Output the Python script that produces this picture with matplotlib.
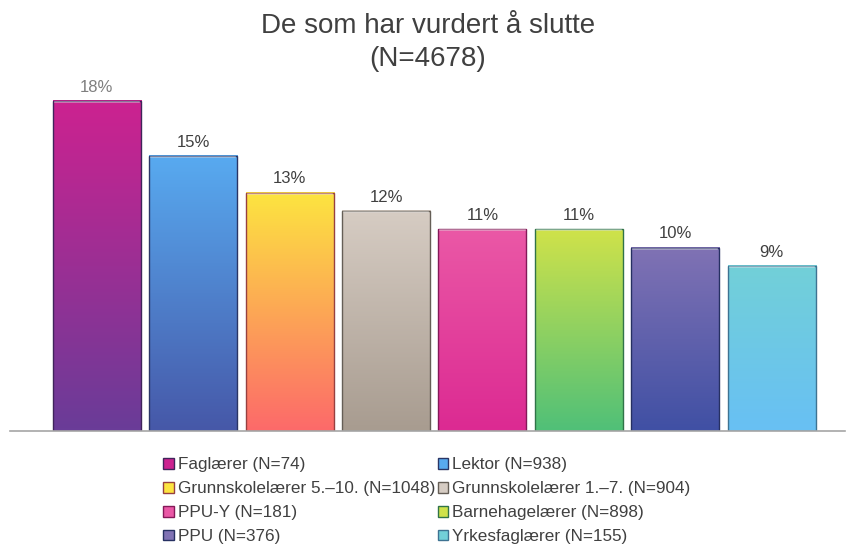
import numpy as np
import matplotlib
matplotlib.use("Agg")
from matplotlib import pyplot as plt
from matplotlib.colors import LinearSegmentedColormap, to_rgb
from matplotlib.patches import Patch

categories = ["Faglærer (N=74)", "Lektor (N=938)", "Grunnskolelærer 5.–10. (N=1048)",
              "Grunnskolelærer 1.–7. (N=904)", "PPU-Y (N=181)", "Barnehagelærer (N=898)",
              "PPU (N=376)", "Yrkesfaglærer (N=155)"]
values = [18, 15, 13, 12, 11, 11, 10, 9]
labels = ["18%", "15%", "13%", "12%", "11%", "11%", "10%", "9%"]

# top / bottom colours of each gradient bar
top_colors = ["#cc2290", "#58aaf0", "#fde440", "#d6ccc3", "#ea58a6", "#cfe24a", "#8072b4", "#72d0d8"]
bot_colors = ["#6a3c98", "#4658a8", "#fc6a6a", "#a89c90", "#dc2a92", "#50c078", "#4050a4", "#68c0f4"]

plt.rcParams['font.family'] = ['Liberation Sans', 'DejaVu Sans']

fig = plt.figure(figsize=(8.47, 5.46), dpi=100)
ax = fig.add_axes([10 / 847, 1 - 431 / 546, 835 / 847, 351 / 546])

x = np.arange(len(values))
width = 0.913
ymax = 18 * 351 / 330.0


def darker(c, f=0.6):
    r, g, b = to_rgb(c)
    return (r * f, g * f, b * f)


for i, v in enumerate(values):
    cmap = LinearSegmentedColormap.from_list("g%d" % i, [bot_colors[i], top_colors[i]])
    grad = np.linspace(0, 1, 100).reshape(-1, 1)
    ax.imshow(grad, cmap=cmap, origin="lower", aspect="auto",
              extent=(x[i] - width / 2, x[i] + width / 2, 0, v), zorder=1)
    ax.bar(x[i], v, width=width, facecolor="none", edgecolor=darker(bot_colors[i]),
           linewidth=1.0, zorder=2)
    ax.plot([x[i] - width / 2 + 0.02, x[i] + width / 2 - 0.02], [v - 0.06, v - 0.06],
            color="white", alpha=0.45, linewidth=1.2, zorder=3)
    ax.text(x[i], v + 0.35, labels[i], ha="center", va="bottom", fontsize=12,
            color="#7f7f7f" if i == 0 else "#404040")

ax.set_xlim(-0.9, 7.76)
ax.set_ylim(0, ymax)
ax.set_xticks([])
ax.set_yticks([])
for s in ["top", "right", "left"]:
    ax.spines[s].set_visible(False)
ax.spines["bottom"].set_color("#a6a6a6")
ax.spines["bottom"].set_linewidth(1.2)

fig.text(0.505, 1 - 26 / 546, "De som har vurdert å slutte", ha="center", va="center",
         fontsize=20, color="#404040")
fig.text(0.505, 1 - 59 / 546, "(N=4678)", ha="center", va="center",
         fontsize=20, color="#404040")

# legend filled row by row
order = [0, 2, 4, 6, 1, 3, 5, 7]
handles = [Patch(facecolor=top_colors[i], edgecolor=darker(bot_colors[i]), label=categories[i])
           for i in range(len(categories))]
leg = fig.legend([handles[i] for i in order], [categories[i] for i in order],
                 ncol=2, loc="upper left", bbox_to_anchor=(148 / 847, 1 - 442 / 546),
                 frameon=False, handlelength=0.6, handleheight=0.6,
                 handletextpad=0.25, columnspacing=0.15, labelspacing=0.52,
                 prop={"size": 12.3})
for t in leg.get_texts():
    t.set_color("#404040")

fig.savefig("out.png", dpi=100)
